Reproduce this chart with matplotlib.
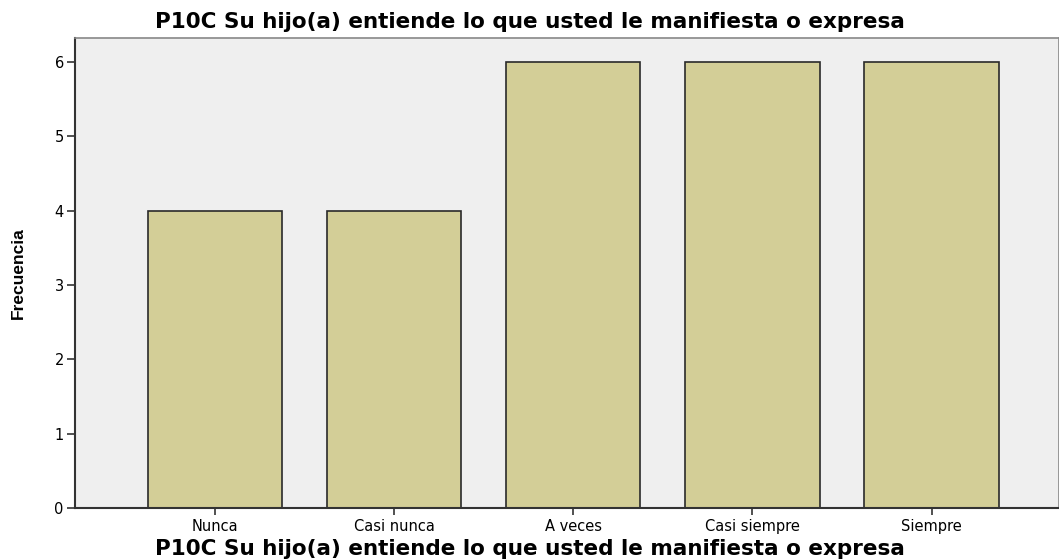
import matplotlib
matplotlib.use('Agg')
import matplotlib.pyplot as plt

categories = ['Nunca', 'Casi nunca', 'A veces', 'Casi siempre', 'Siempre']
counts = [4, 4, 6, 6, 6]
yticks = [0, 1, 2, 3, 4, 5, 6]
title = 'P10C Su hijo(a) entiende lo que usted le manifiesta o expresa'

plt.rcParams['font.family'] = ['DejaVu Sans']

fig = plt.figure(figsize=(10.59, 5.6), dpi=100)
ax = fig.add_axes([0.0708, 0.0929, 0.929, 0.839])
ax.set_facecolor('#efefef')

x = list(range(len(categories)))
ax.bar(x, counts, width=0.75, color='#d3ce97', edgecolor='#2a2a2a', linewidth=1.2, zorder=2)

ax.set_xlim(-0.78, 4.71)
ax.set_ylim(0, 6.32)
ax.set_yticks(yticks)
ax.set_xticks(x)
ax.set_xticklabels(categories, fontsize=10.5)
ax.tick_params(axis='y', labelsize=10.5, length=6, width=1.2, color='#333333', direction='out', pad=2)
ax.tick_params(axis='x', length=5, width=1.2, color='#333333', direction='out', pad=3)

for side in ['left', 'bottom']:
    ax.spines[side].set_color('#333333')
    ax.spines[side].set_linewidth(1.5)
for side in ['top', 'right']:
    ax.spines[side].set_color('#888888')
    ax.spines[side].set_linewidth(1.2)

fig.text(0.5, 0.961, title, ha='center', va='center', fontsize=15.5, fontweight='bold')
fig.text(0.5, 0.02, title, ha='center', va='center', fontsize=15.5, fontweight='bold')
fig.text(0.017, 0.512, 'Frecuencia', rotation=90, ha='center', va='center', fontsize=12.5,
         fontweight='bold', family=['Liberation Sans Narrow', 'Liberation Sans'])

fig.savefig('out.png', dpi=100)
